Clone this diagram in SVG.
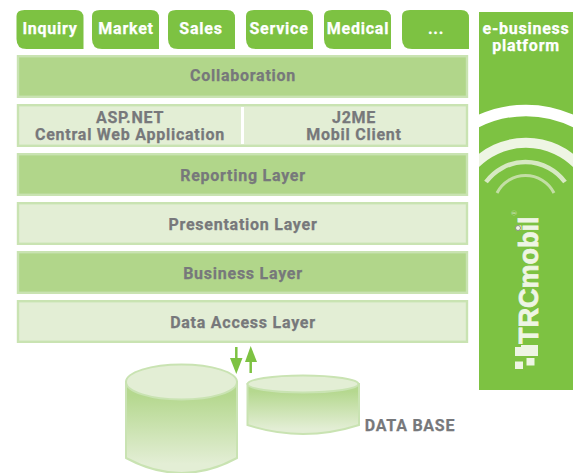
<svg xmlns="http://www.w3.org/2000/svg" width="573" height="473" viewBox="0 0 573 473">
<style>
text{font-family:Roboto,"Liberation Sans",sans-serif;font-weight:700;text-anchor:middle;font-size:16px;letter-spacing:.75px;stroke-width:.25px}
.tab{fill:#7dc242}
.tt{fill:#fff;stroke:#fff}
.lt{fill:#77787b;stroke:#77787b}
.dark{fill:#b1d68a;stroke:#c9e3b2;stroke-width:2.4}
.light{fill:#e3eed5;stroke:#c9e3b2;stroke-width:2.4}
.cyl{stroke:#c9e3b2;stroke-width:2}
.top{fill:#e3eed5;stroke:#c9e3b2;stroke-width:2}
.logo{fill:#eef5e4}
.arc{fill:none}
</style>
<defs>
<linearGradient id="g" x1="0" y1="0" x2="0" y2="1"><stop offset="0.15" stop-color="#b5d88f"/><stop offset="0.9" stop-color="#e3eed5"/></linearGradient>
<path id="tabshape" d="M8 0H59Q67 0 67 8V39H10Q0 39 0 29V6Q0 0 8 0Z"/>
</defs>
<g id="tab-inquiry"><use href="#tabshape" class="tab" x="16.500" y="10"/><text class="tt" x="50" y="33.500">Inquiry</text></g>
<g id="tab-market"><use href="#tabshape" class="tab" x="92" y="10"/><text class="tt" x="126" y="33.500">Market</text></g>
<g id="tab-sales"><use href="#tabshape" class="tab" x="168" y="10"/><text class="tt" x="201" y="33.500">Sales</text></g>
<g id="tab-service"><use href="#tabshape" class="tab" x="246" y="10"/><text class="tt" x="279" y="33.500">Service</text></g>
<g id="tab-medical"><use href="#tabshape" class="tab" x="324" y="10"/><text class="tt" x="358" y="33.500">Medical</text></g>
<g id="tab-more"><use href="#tabshape" class="tab" x="402" y="10"/><text class="tt" x="436" y="33.500">...</text></g>
<g id="collaboration"><rect class="dark" x="18" y="56.200" width="449" height="40.600"/><text class="lt" x="243" y="81">Collaboration</text></g>
<g id="clients"><rect class="light" x="18" y="105.200" width="449" height="40.600"/><rect x="241" y="107" width="3" height="37" fill="#fff"/><text class="lt"><tspan x="130" y="123">ASP.NET</tspan><tspan x="130" y="140">Central Web Application</tspan></text><text class="lt"><tspan x="354" y="123">J2ME</tspan><tspan x="354" y="140">Mobil Client</tspan></text></g>
<g id="reporting"><rect class="dark" x="18" y="154.200" width="449" height="40.600"/><text class="lt" x="243" y="181">Reporting Layer</text></g>
<g id="presentation"><rect class="light" x="18" y="203.200" width="449" height="40.600"/><text class="lt" x="243" y="230">Presentation Layer</text></g>
<g id="business"><rect class="dark" x="18" y="252.200" width="449" height="40.600"/><text class="lt" x="243" y="279">Business Layer</text></g>
<g id="data-access"><rect class="light" x="18" y="301.200" width="449" height="40.600"/><text class="lt" x="243" y="328">Data Access Layer</text></g>
<g id="platform">
<rect x="479" y="12" width="94" height="378" fill="#7dc242"/>
<clipPath id="panel"><rect x="479" y="12" width="94" height="378"/></clipPath>
<g clip-path="url(#panel)">
<path class="arc" d="M473 124A110 110 0 0 1 579 124" stroke="#fff" stroke-width="11.500"/>
<path class="arc" d="M473 166A72 72 0 0 1 579 166" stroke="#eef5e4" stroke-width="10"/>
</g>
<path class="arc" d="M486 182A49 49 0 0 1 565 182" stroke="#d7e9c3" stroke-width="4.500"/>
<path class="arc" d="M497 193A32 32 0 0 1 554 193" stroke="#c3dea4" stroke-width="3"/>
<text class="tt"><tspan x="526" y="33.500">e-business</tspan><tspan x="526" y="50.500">platform</tspan></text>
<text transform="translate(537.500 344) rotate(-90)" style="font-family:'Liberation Sans',sans-serif;font-size:27px;text-anchor:start;letter-spacing:0;stroke-width:.8px;fill:#eef5e4;stroke:#eef5e4">TRCmobil</text>
<circle cx="518" cy="228" r="2.500" fill="#eef5e4" stroke="#8a8f88" stroke-width="1"/>
<text transform="translate(516.500 213) rotate(-90)" style="font-family:'Liberation Sans',sans-serif;font-size:7px;letter-spacing:0;stroke-width:0;fill:#b9d99a">®</text>
<path class="logo" d="M521 345H538V356H515V347H521Z"/>
<rect class="logo" x="526.500" y="358" width="8" height="7.500"/>
<rect class="logo" x="515" y="361.500" width="8" height="7.500"/>
</g>
<g id="connectors">
<path d="M236.300 347V360" stroke="#7dc242" stroke-width="2.500" fill="none"/><path d="M230 358H242.500L236.300 374Z" fill="#7dc242"/>
<path d="M250.700 373V360" stroke="#7dc242" stroke-width="2.500" fill="none"/><path d="M245 362H257L250.700 346Z" fill="#7dc242"/>
</g>
<g id="db-large">
<path class="cyl" fill="url(#g)" d="M126 382V458Q181.500 488 237 458V382Z"/>
<ellipse class="top" cx="181.500" cy="382" rx="55.500" ry="17.500"/>
</g>
<g id="db-small">
<path class="cyl" fill="url(#g)" d="M247.500 384V425Q303 443 359 425V384Z"/>
<ellipse class="top" cx="303" cy="384" rx="55.500" ry="8.500"/>
</g>
<text id="db-label" class="lt" x="410" y="431">DATA BASE</text>
</svg>
